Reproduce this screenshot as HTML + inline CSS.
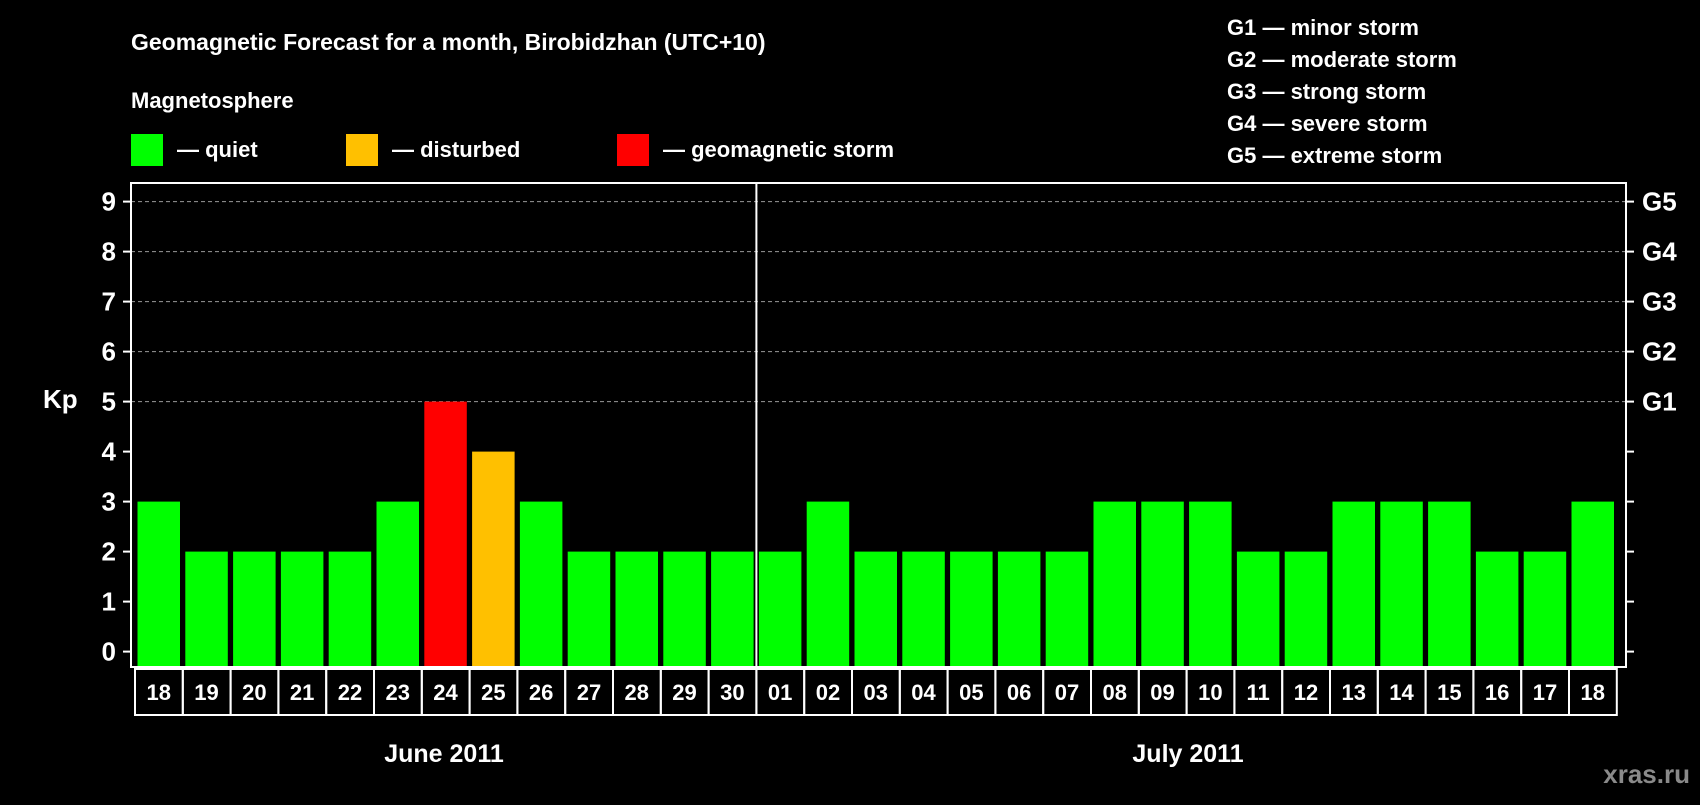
<!DOCTYPE html>
<html><head><meta charset="utf-8"><style>
body{margin:0;background:#000;width:1700px;height:800px;overflow:hidden}
svg text{font-family:"Liberation Sans",sans-serif;font-weight:bold;fill:#fff}
</style></head><body>
<svg id="c" width="1700" height="800">
<text x="131" y="50" font-size="23">Geomagnetic Forecast for a month, Birobidzhan (UTC+10)</text>
<text x="131" y="108" font-size="22">Magnetosphere</text>
<rect x="131" y="134" width="32" height="32" fill="#00ff00"/>
<text x="177" y="157" font-size="22">— quiet</text>
<rect x="346" y="134" width="32" height="32" fill="#ffc000"/>
<text x="392" y="157" font-size="22">— disturbed</text>
<rect x="617" y="134" width="32" height="32" fill="#ff0000"/>
<text x="663" y="157" font-size="22">— geomagnetic storm</text>
<g font-size="22">
<text x="1227" y="35">G1 — minor storm</text>
<text x="1227" y="67">G2 — moderate storm</text>
<text x="1227" y="99">G3 — strong storm</text>
<text x="1227" y="131">G4 — severe storm</text>
<text x="1227" y="163">G5 — extreme storm</text>
</g>
<text x="43" y="408" font-size="26">Kp</text>
<text x="444" y="762" font-size="25" text-anchor="middle">June 2011</text>
<text x="1188" y="762" font-size="25" text-anchor="middle">July 2011</text>
<text x="1690" y="783" font-size="26" text-anchor="end" style="fill:#8a8a8a">xras.ru</text>
<g id="plot"></g>
</svg>
<script>
const days=["18","19","20","21","22","23","24","25","26","27","28","29","30","01","02","03","04","05","06","07","08","09","10","11","12","13","14","15","16","17","18"];
const kp=[3,2,2,2,2,3,5,4,3,2,2,2,2,2,3,2,2,2,2,2,3,3,3,2,2,3,3,3,2,2,3];
const yTicks=[0,1,2,3,4,5,6,7,8,9];
const gLabels=["G1","G2","G3","G4","G5"];
const gLevels=[5,6,7,8,9];
const NS="http://www.w3.org/2000/svg";
const L=131,R=1626,T=183,B=667,x0=137.5,pitch=47.8,bw=42.5;
const y=v=>651.6-v*50;
const xb=i=>x0+i*pitch;
const g=document.getElementById('plot');
function mk(t,a){const e=document.createElementNS(NS,t);for(const k in a)e.setAttribute(k,a[k]);g.appendChild(e);return e;}
yTicks.forEach(v=>{
 if(v>=5){const l=mk('line',{x1:L,x2:R,y1:y(v),y2:y(v),stroke:'#999','stroke-dasharray':'4 3','stroke-width':1});
 
 }
 const t=mk('line',{x1:L-8,x2:L,y1:y(v),y2:y(v),stroke:'#fff','stroke-width':2});
 
 
 const t2=mk('line',{x1:R,x2:R+8,y1:y(v),y2:y(v),stroke:'#fff','stroke-width':2});
 
 
 const tx=mk('text',{x:L-15,y:y(v)+9,'font-size':26,'text-anchor':'end'});tx.textContent=v;
 
 
});
gLabels.forEach((s,i)=>{
 const tx=mk('text',{x:R+16,y:y(gLevels[i])+9,'font-size':26});tx.textContent=s;
 
 
});
kp.forEach((v,i)=>{
 const c=v>=5?'#ff0000':v>=4?'#ffc000':'#00ff00';
 const r=mk('rect',{x:xb(i),y:y(v),width:bw,height:y(0)-y(v)+15,fill:c});
 
 
 const bx=mk('rect',{x:xb(i)-2.5,y:669,width:pitch,height:46,fill:'none',stroke:'#fff','stroke-width':2});
 
 
 const tx=mk('text',{x:xb(i)+bw/2,y:700,'font-size':22,'text-anchor':'middle'});tx.textContent=days[i];
 
 
});
const fr=mk('rect',{x:L,y:T,width:R-L,height:B-T,fill:'none',stroke:'#fff','stroke-width':2});


const dv=mk('line',{x1:xb(13)-2.5,x2:xb(13)-2.5,y1:T,y2:B,stroke:'#fff','stroke-width':2});


</script>
</body></html>
